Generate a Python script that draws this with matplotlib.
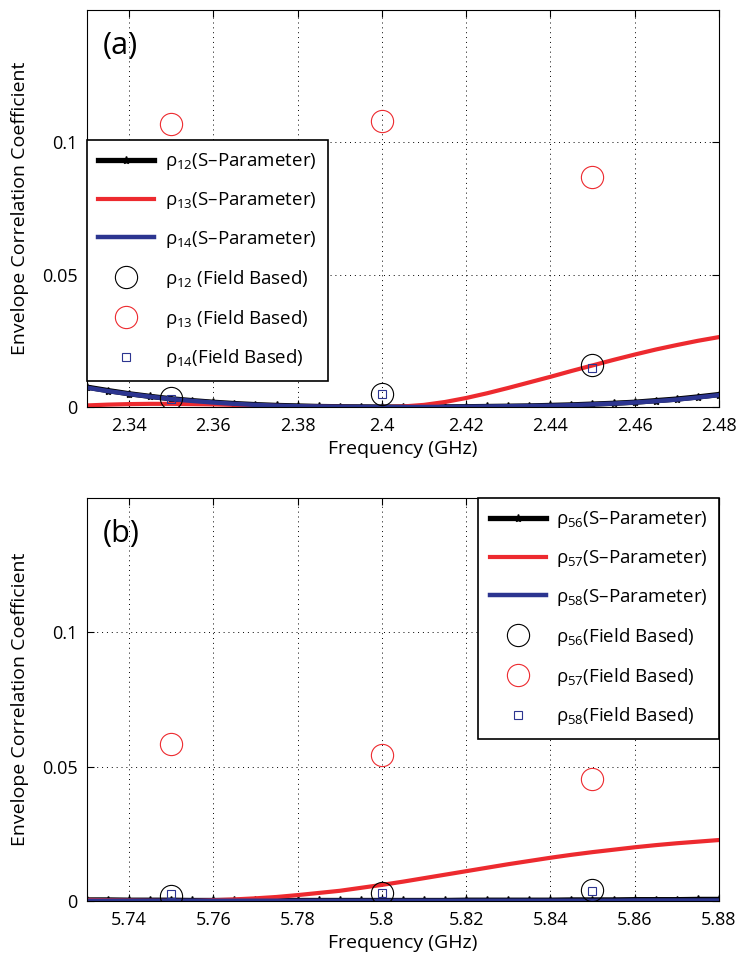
import numpy as np
import matplotlib
matplotlib.use("Agg")
import matplotlib.pyplot as plt

plt.rcParams['font.family'] = ['Open Sans', 'DejaVu Sans']
plt.rcParams['mathtext.fontset'] = 'custom'
plt.rcParams['mathtext.rm'] = 'Open Sans'
plt.rcParams['mathtext.it'] = 'Open Sans:italic'

# ---- data, panel (a): 2.4 GHz band ----
freq_a = [2.330, 2.335, 2.340, 2.345, 2.350, 2.355, 2.360, 2.365, 2.370, 2.375,
          2.380, 2.385, 2.390, 2.395, 2.400, 2.405, 2.410, 2.415, 2.420, 2.425,
          2.430, 2.435, 2.440, 2.445, 2.450, 2.455, 2.460, 2.465, 2.470, 2.475, 2.480]
rho12_s = [0.0075, 0.0062, 0.0050, 0.0040, 0.0031, 0.0024, 0.0018, 0.0013, 0.0009, 0.0006,
           0.0004, 0.0002, 0.0001, 0.00005, 0.0, 0.0, 0.00002, 0.00005, 0.0001, 0.0002,
           0.0003, 0.0004, 0.0006, 0.0008, 0.0011, 0.0014, 0.0018, 0.0024, 0.0030, 0.0038, 0.0047]
rho13_s = [0.0006, 0.0009, 0.0011, 0.0012, 0.0012, 0.0011, 0.0010, 0.0008, 0.0006, 0.0004,
           0.0003, 0.0001, 0.00005, 0.0, 0.0, 0.0002, 0.0008, 0.0019, 0.0034, 0.0052,
           0.0072, 0.0093, 0.0114, 0.0136, 0.0157, 0.0178, 0.0198, 0.0217, 0.0234, 0.0250, 0.0264]
rho14_s = [0.0073, 0.0060, 0.0049, 0.0039, 0.0030, 0.0023, 0.0017, 0.0012, 0.0008, 0.0005,
           0.0003, 0.0002, 0.0001, 0.00005, 0.0, 0.0, 0.00002, 0.00005, 0.0001, 0.0002,
           0.0003, 0.0004, 0.0005, 0.0007, 0.0010, 0.0013, 0.0017, 0.0022, 0.0028, 0.0036, 0.0045]
freq_a_meas = [2.35, 2.40, 2.45]
rho12_f = [0.0034, 0.0049, 0.0158]
rho13_f = [0.1068, 0.1080, 0.0868]
rho14_f = [0.0030, 0.0049, 0.0147]

# ---- data, panel (b): 5.8 GHz band ----
freq_b = [5.730, 5.735, 5.740, 5.745, 5.750, 5.755, 5.760, 5.765, 5.770, 5.775,
          5.780, 5.785, 5.790, 5.795, 5.800, 5.805, 5.810, 5.815, 5.820, 5.825,
          5.830, 5.835, 5.840, 5.845, 5.850, 5.855, 5.860, 5.865, 5.870, 5.875, 5.880]
rho56_s = [0.0004, 0.0004, 0.0003, 0.0003, 0.0003, 0.0002, 0.0002, 0.0002, 0.0002, 0.0002,
           0.0002, 0.0002, 0.0002, 0.0002, 0.0002, 0.0002, 0.0002, 0.0002, 0.0003, 0.0003,
           0.0003, 0.0003, 0.0003, 0.0004, 0.0004, 0.0004, 0.0005, 0.0005, 0.0005, 0.0006, 0.0006]
rho57_s = [0.0004, 0.0003, 0.0002, 0.0001, 0.00005, 0.0, 0.0003, 0.0006, 0.0010, 0.0015,
           0.0022, 0.0030, 0.0038, 0.0049, 0.0060, 0.0072, 0.0085, 0.0098, 0.0111, 0.0124,
           0.0137, 0.0149, 0.0161, 0.0172, 0.0182, 0.0191, 0.0200, 0.0208, 0.0215, 0.0221, 0.0227]
rho58_s = [0.0001, 0.0001, 0.0001, 0.0001, 0.0001, 0.0001, 0.0001, 0.0001, 0.0001, 0.0001,
           0.0001, 0.0001, 0.0001, 0.0001, 0.0001, 0.0001, 0.0001, 0.0001, 0.0001, 0.0001,
           0.0001, 0.0001, 0.0001, 0.0001, 0.0001, 0.0001, 0.0002, 0.0002, 0.0002, 0.0002, 0.0002]
freq_b_meas = [5.75, 5.80, 5.85]
rho56_f = [0.0019, 0.0030, 0.0041]
rho57_f = [0.0586, 0.0545, 0.0455]
rho58_f = [0.0026, 0.0030, 0.0037]

black = 'black'
red = '#ED2A2F'
blue = '#2C3590'

fig = plt.figure(figsize=(7.39, 9.57), dpi=100)
ax1 = fig.add_axes([0.1177, 0.5747, 0.855, 0.415])
ax2 = fig.add_axes([0.1177, 0.0585, 0.855, 0.421])


def panel(ax, f, s1, s2, s3, fm, m1, m2, m3, names, spaced, xticks, tag):
    ax.plot(f, s1, '-*', color=black, lw=3.8, ms=6, mew=1.0,
            label='ρ$_{%s}$(S–Parameter)' % names[0])
    ax.plot(f, s2, '-', color=red, lw=3.0, label='ρ$_{%s}$(S–Parameter)' % names[1])
    ax.plot(f, s3, '-', color=blue, lw=3.2, label='ρ$_{%s}$(S–Parameter)' % names[2])
    sp = ' ' if spaced else ''
    ax.plot(fm, m1, 'o', mfc='none', mec=black, ms=16, mew=0.8,
            label='ρ$_{%s}$%s(Field Based)' % (names[0], sp))
    ax.plot(fm, m2, 'o', mfc='none', mec=red, ms=16, mew=0.8,
            label='ρ$_{%s}$%s(Field Based)' % (names[1], sp))
    ax.plot(fm, m3, 's', mfc='none', mec=blue, ms=6, mew=0.8,
            label='ρ$_{%s}$(Field Based)' % names[2])
    ax.set_xlim(xticks[0] - 0.01, xticks[-1])
    ax.set_ylim(0, 0.15)
    ax.set_xticks(xticks)
    ax.set_xticklabels([('%g' % t) for t in xticks])
    ax.set_yticks([0, 0.05, 0.1])
    ax.set_yticklabels(['0', '0.05', '0.1'])
    ax.tick_params(direction='in', top=True, right=True, labelsize=13, length=5, pad=7)
    ax.grid(True, color='black', linestyle=(0, (1, 4)), linewidth=0.7)
    ax.set_xlabel('Frequency (GHz)', fontsize=14, labelpad=4)
    ax.set_ylabel('Envelope Correlation Coefficient', fontsize=14, labelpad=9)
    ax.text(0.025, 0.91, tag, transform=ax.transAxes, fontsize=22, va='center', ha='left')


panel(ax1, freq_a, rho12_s, rho13_s, rho14_s, freq_a_meas, rho12_f, rho13_f, rho14_f,
      ['12', '13', '14'], True, [2.34, 2.36, 2.38, 2.40, 2.42, 2.44, 2.46, 2.48], '(a)')
panel(ax2, freq_b, rho56_s, rho57_s, rho58_s, freq_b_meas, rho56_f, rho57_f, rho58_f,
      ['56', '57', '58'], False, [5.74, 5.76, 5.78, 5.80, 5.82, 5.84, 5.86, 5.88], '(b)')

leg_kw = dict(fontsize=13.5, handlelength=3.0, labelspacing=0.95, borderaxespad=0,
              fancybox=False, edgecolor='black', framealpha=1, borderpad=0.6,
              handletextpad=0.55)
l1 = ax1.legend(loc='upper left', bbox_to_anchor=(0.0, 0.672), **leg_kw)
l2 = ax2.legend(loc='upper right', bbox_to_anchor=(1.0, 1.0), **leg_kw)
for l in (l1, l2):
    l.get_frame().set_linewidth(1.2)

fig.savefig('out.png', dpi=100)
